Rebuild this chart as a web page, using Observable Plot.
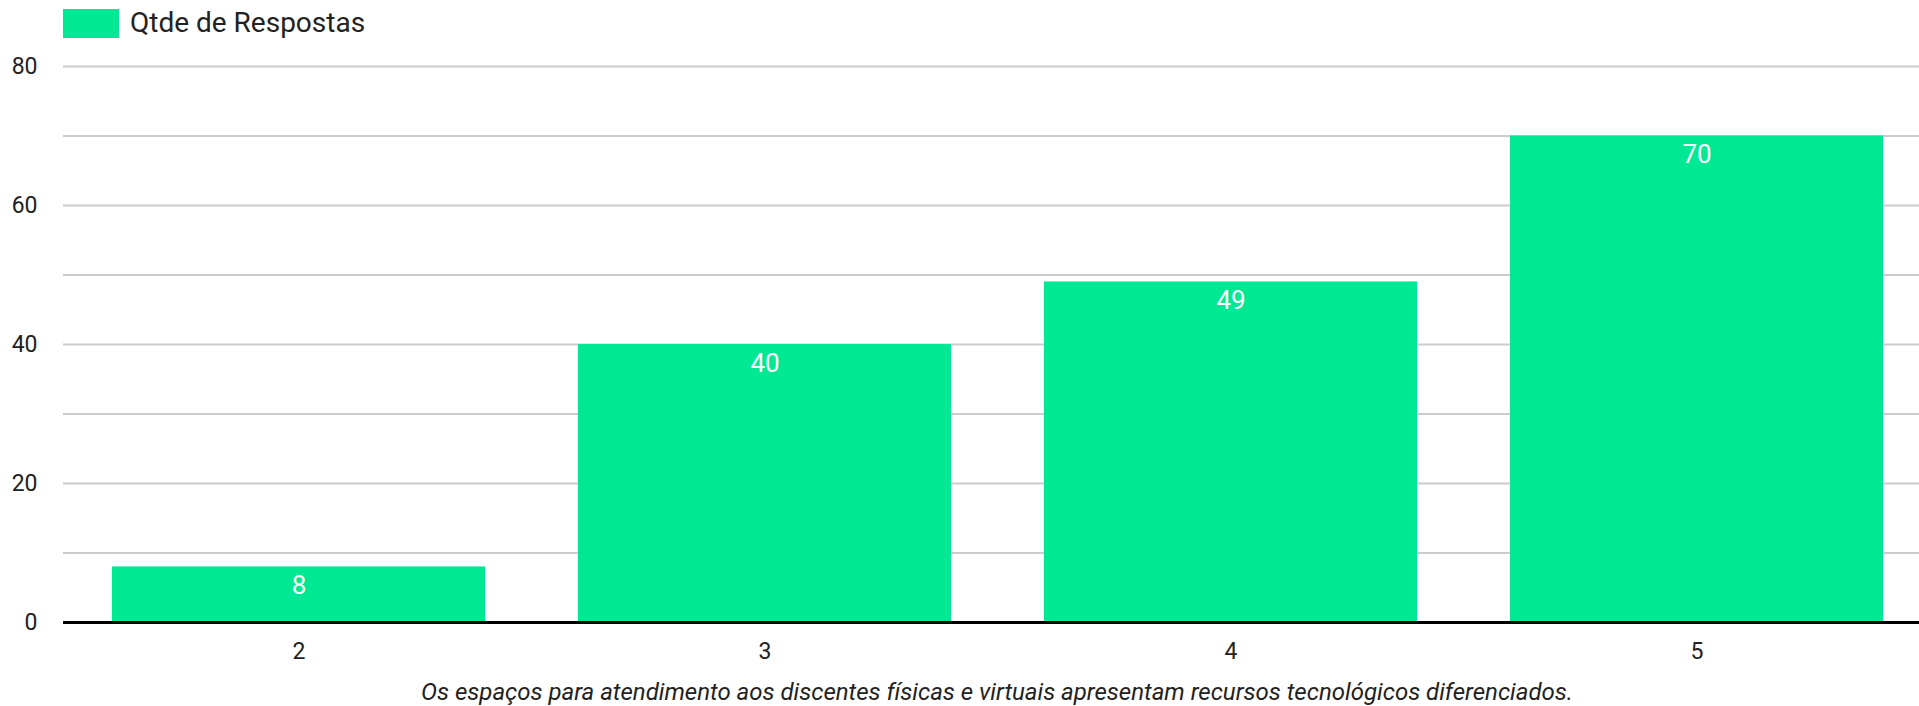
<!DOCTYPE html>
<html>
<head>
<meta charset="utf-8">
<script src="https://cdn.jsdelivr.net/npm/d3@7"></script>
<script src="https://cdn.jsdelivr.net/npm/@observablehq/plot@0.6"></script>
<style>
  html, body { margin: 0; padding: 0; background: #fff; }
  body { width: 1919px; height: 706px; overflow: hidden; font-family: Roboto, "Noto Sans", sans-serif; }
  #legend { height: 48px; position: relative; }
  #legend .sw { position: absolute; left: 63px; top: 9px; width: 56px; height: 29px; background: #00e893; }
  #legend .lb { position: absolute; left: 130px; top: 6px; font-size: 28px; line-height: 34px; color: #222; }
  #chart svg { display: block; }
  #caption { height: 34px; padding-left: 75px; text-align: center; font-style: italic; font-size: 24px; line-height: 40px; color: #222; box-sizing: border-box; white-space: nowrap; }
</style>
</head>
<body>
<div id="legend"><div class="sw"></div><div class="lb"></div></div>
<div id="chart"></div>
<div id="caption"></div>
<script>
const categories = ["2", "3", "4", "5"];
const values = [8, 40, 49, 70];
const seriesName = "Qtde de Respostas";
const yTicks = [0, 20, 40, 60, 80];
const yGrid = [10, 20, 30, 40, 50, 60, 70, 80];
const caption = "Os espaços para atendimento aos discentes físicas e virtuais apresentam recursos tecnológicos diferenciados.";

const barColor = "#00e893";
const data = categories.map((c, i) => ({cat: c, val: values[i]}));

document.querySelector("#legend .lb").textContent = seriesName;
document.getElementById("caption").textContent = caption;

const chart = Plot.plot({
  width: 1919,
  height: 624,
  marginTop: 18,
  marginBottom: 50,
  marginLeft: 63,
  marginRight: 0,
  style: {fontFamily: "Roboto, sans-serif", fontSize: "23px", color: "#222", background: "#fff"},
  x: {type: "band", domain: categories, paddingInner: 0.2, paddingOuter: 0.09, align: 0.571, label: null},
  y: {domain: [0, 80], label: null},
  marks: [
    Plot.ruleY(yGrid, {stroke: "#cccccc", strokeWidth: 2}),
    Plot.barY(data, {x: "cat", y: "val", fill: barColor}),
    Plot.text(data, {x: "cat", y: "val", text: d => String(d.val), fill: "#fff", fontSize: 26, dy: 19}),
    Plot.ruleY([0], {stroke: "#000", strokeWidth: 3}),
    Plot.axisY({ticks: yTicks, tickSize: 0, tickPadding: 26, fontSize: 23, label: null}),
    Plot.axisX({tickSize: 0, tickPadding: 20, fontSize: 23, label: null})
  ]
});
document.getElementById("chart").appendChild(chart);
</script>
</body>
</html>
